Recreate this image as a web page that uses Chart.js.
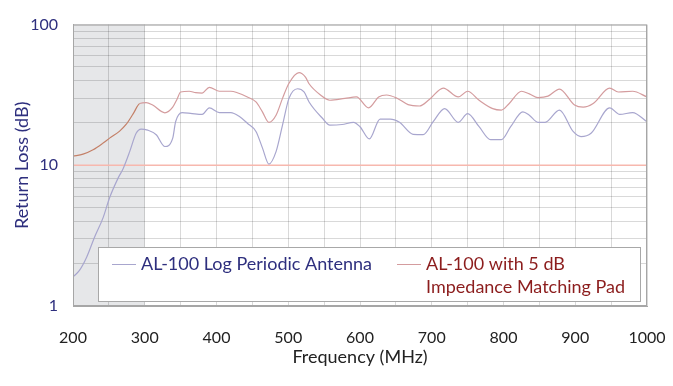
<!DOCTYPE html>
<html>
<head>
<meta charset="utf-8">
<script src="https://cdn.jsdelivr.net/npm/chart.js@4"></script>
<style>
  html, body { margin: 0; padding: 0; background: #ffffff; }
  #wrap { width: 673px; height: 386px; }
</style>
</head>
<body>
<div id="wrap"><canvas id="returnLoss" width="673" height="386"></canvas></div>
<script>
// Return loss vs frequency

// AL-100 Log Periodic Antenna
const freqAntenna = [200, 209, 219, 230, 242, 251, 263, 270, 279, 288, 295, 304, 316, 328, 339, 343,
  352, 366, 380, 390, 404, 420, 432, 443, 455, 464, 473, 483, 492, 501, 513, 522, 529, 548, 558,
  575, 591, 600, 613, 628, 642, 655, 674, 688, 702, 718, 737, 750, 766, 782, 797, 810, 827, 836,
  848, 858, 878, 897, 908, 922, 948, 962, 980, 1000];
const lossAntenna = [1.61, 1.79, 2.22, 3.08, 4.25, 5.88, 8.14, 9.5, 12.5, 16.9, 18.1, 17.8, 16.5, 13.6, 15.6, 20.4,
  23.7, 23.3, 23.0, 25.6, 23.7, 23.7, 22.2, 19.9, 17.4, 13.3, 10.2, 12.5, 19.3, 29.9, 35.0, 33.2, 28.2, 21.5, 19.3,
  19.5, 20.2, 18.8, 15.4, 21.3, 21.3, 20.2, 16.6, 16.5, 20.4, 25.3, 20.2, 23.3, 18.8, 15.2, 15.2, 18.8, 24.0, 22.7,
  20.2, 20.2, 24.7, 17.4, 16.0, 16.9, 25.6, 23.0, 23.7, 20.4];

// AL-100 with 5 dB Impedance Matching Pad
const freqPad = [200, 214, 228, 242, 251, 265, 274, 284, 293, 302, 311, 328, 339, 345, 350, 362, 371, 380,
  390, 404, 420, 429, 443, 455, 464, 473, 483, 492, 501, 515, 524, 529, 545, 558, 579, 595, 612, 626,
  637, 651, 667, 683, 697, 716, 737, 750, 766, 785, 797, 808, 825, 836, 848, 862, 878, 899, 911, 925,
  948, 960, 980, 1000];
const lossPad = [11.6, 12.0, 12.9, 14.4, 15.6, 17.5, 19.5, 23.3, 27.5, 27.9, 26.8, 23.6, 25.9, 29.5, 33.2, 33.6, 32.8, 32.6,
  35.8, 33.6, 33.6, 32.8, 30.6, 28.2, 24.0, 20.2, 22.7, 29.9, 38.3, 45.6, 42.4, 38.0, 31.6, 29.0, 29.9, 30.6, 25.6, 30.6,
  31.6, 30.1, 27.0, 26.4, 29.5, 35.4, 30.6, 33.6, 29.0, 25.3, 24.7, 27.5, 33.6, 32.2, 30.3, 31.0, 34.8, 26.8, 25.9, 27.5,
  35.4, 33.2, 33.6, 30.6];

// 10 dB reference line
const refFreq = [200, 1000];
const refLoss = [10, 10];

// shaded band (below the antenna's rated range)
const shadeFrom = 200;
const shadeTo = 300;

// axis ticks
const yTickValues = [1, 2, 3, 4, 5, 6, 7, 8, 9, 10, 20, 30, 40, 50, 60, 70, 80, 90, 100];
const yTickLabels = [1, 10, 100];
const xLabelStep = 100;

const legendLabels = ['AL-100 Log Periodic Antenna', ['AL-100 with 5 dB', 'Impedance Matching Pad']];

const FONT = 'Lato, "Open Sans", sans-serif';
const NAVY = '#2e2f7e';
const DARKRED = '#8c1d1d';
const BLUE_LINE = 'rgb(168, 166, 206)';
const RED_LINE = 'rgb(212, 156, 158)';
const RED_LINE_SHADED = 'rgb(196, 128, 104)';

function toPoints(xs, ys) {
  return xs.map((x, i) => ({ x: x, y: ys[i] }));
}

// grey band behind the grid
const shadePlugin = {
  id: 'shade',
  beforeDraw(chart) {
    const { ctx, chartArea, scales } = chart;
    const x0 = scales.x.getPixelForValue(shadeFrom);
    const x1 = scales.x.getPixelForValue(shadeTo);
    ctx.save();
    ctx.fillStyle = '#e6e7e9';
    ctx.fillRect(x0, chartArea.top, x1 - x0, chartArea.bottom - chartArea.top);
    ctx.restore();
  }
};

// plot frame + boxed legend
const frameLegendPlugin = {
  id: 'frameLegend',
  afterDraw(chart) {
    const { ctx, chartArea } = chart;
    ctx.save();
    ctx.strokeStyle = '#a6a6a6';
    ctx.lineWidth = 1;
    ctx.strokeRect(chartArea.left + 0.5, chartArea.top + 0.5,
      chartArea.right - chartArea.left - 1, chartArea.bottom - chartArea.top - 1);

    // legend box
    const bx = chartArea.left + 25, by = chartArea.bottom - 59;
    const bw = 542, bh = 54;
    ctx.fillStyle = '#ffffff';
    ctx.fillRect(bx, by, bw, bh);
    ctx.strokeStyle = '#a8a8a8';
    ctx.strokeRect(bx + 0.5, by + 0.5, bw, bh);

    ctx.font = '18px ' + FONT;
    ctx.textBaseline = 'middle';
    ctx.textAlign = 'left';
    const rowY = by + 17;

    ctx.strokeStyle = BLUE_LINE;
    ctx.beginPath();
    ctx.moveTo(bx + 14, rowY + 0.5);
    ctx.lineTo(bx + 38, rowY + 0.5);
    ctx.stroke();
    ctx.fillStyle = NAVY;
    ctx.fillText(legendLabels[0], bx + 43, rowY);

    ctx.strokeStyle = RED_LINE;
    ctx.beginPath();
    ctx.moveTo(bx + 299, rowY + 0.5);
    ctx.lineTo(bx + 323, rowY + 0.5);
    ctx.stroke();
    ctx.fillStyle = DARKRED;
    legendLabels[1].forEach((line, i) => {
      ctx.fillText(line, bx + 328, rowY + i * 23);
    });
    ctx.restore();
  }
};

new Chart(document.getElementById('returnLoss'), {
  type: 'line',
  data: {
    datasets: [
      {
        label: 'AL-100 Log Periodic Antenna',
        data: toPoints(freqAntenna, lossAntenna),
        borderColor: BLUE_LINE,
        borderWidth: 1.2,
        pointRadius: 0,
        cubicInterpolationMode: 'monotone'
      },
      {
        label: 'AL-100 with 5 dB Impedance Matching Pad',
        data: toPoints(freqPad, lossPad),
        borderColor: RED_LINE,
        borderWidth: 1.2,
        pointRadius: 0,
        cubicInterpolationMode: 'monotone',
        segment: {
          borderColor: c => (c.p1.parsed.x <= shadeTo ? RED_LINE_SHADED : RED_LINE)
        }
      },
      {
        label: '10 dB',
        data: toPoints(refFreq, refLoss),
        borderColor: 'rgb(247, 184, 174)',
        borderWidth: 1.5,
        pointRadius: 0
      }
    ]
  },
  options: {
    responsive: false,
    animation: false,
    devicePixelRatio: 1,
    layout: { padding: { top: 22, right: 26, bottom: 0, left: 0 } },
    plugins: {
      legend: { display: false },
      tooltip: { enabled: false }
    },
    scales: {
      x: {
        type: 'linear',
        min: 200,
        max: 1000,
        afterFit: s => { s.height = 80; },
        // invisible tick marks push the labels down without widening the side padding
        grid: { color: 'rgba(0,0,0,0.15)', drawTicks: true, tickLength: 22, tickColor: 'rgba(0,0,0,0)' },
        border: { color: '#a6a6a6' },
        ticks: {
          stepSize: 50,
          autoSkip: false,
          maxRotation: 0,
          padding: 0,
          color: '#222222',
          font: { family: FONT, size: 16 },
          callback: v => (v % xLabelStep === 0 ? String(v) : '')
        },
        title: {
          display: true,
          text: 'Frequency (MHz)',
          color: '#222222',
          font: { family: FONT, size: 18 },
          padding: { top: 0, bottom: 18 }
        }
      },
      y: {
        type: 'logarithmic',
        min: 1,
        max: 100,
        afterFit: s => { s.width = 73; },
        afterBuildTicks: s => { s.ticks = yTickValues.map(v => ({ value: v })); },
        grid: { color: 'rgba(0,0,0,0.15)', drawTicks: false },
        border: { color: '#a6a6a6' },
        ticks: {
          autoSkip: false,
          padding: 15,
          color: NAVY,
          font: { family: FONT, size: 16 },
          callback: v => (yTickLabels.includes(v) ? String(v) : '')
        },
        title: {
          display: true,
          text: 'Return Loss (dB)',
          color: NAVY,
          font: { family: FONT, size: 18 },
          padding: { top: 11, bottom: 0 }
        }
      }
    }
  },
  plugins: [shadePlugin, frameLegendPlugin]
});
</script>
</body>
</html>
